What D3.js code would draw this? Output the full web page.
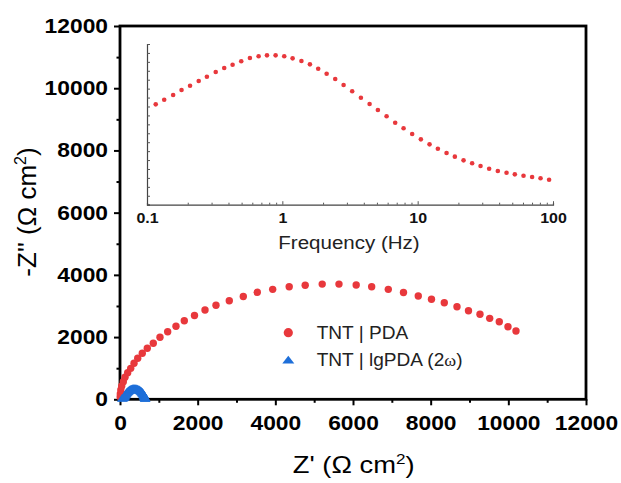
<!DOCTYPE html>
<html>
<head>
<meta charset="utf-8">
<script src="https://cdn.jsdelivr.net/npm/d3@7"></script>
<style>
body { margin: 0; background: #fff; }
svg { font-family: 'Liberation Sans', Arial, sans-serif; }
</style>
</head>
<body>
<svg></svg>
<script>
// Nyquist data, TNT | PDA
let pdaRe = [5, 8, 21, 44, 85, 129, 198, 276, 361, 456, 574, 703, 857, 1030, 1228, 1442, 1656, 1918, 2189, 2472, 2814, 3175, 3535, 3932, 4357, 4769, 5207, 5639, 6082, 6481, 6909, 7300, 7681, 8021, 8351, 8678, 8974, 9270, 9520, 9767, 9991, 10197]
let pdaIm = [70, 170, 299, 427, 566, 707, 855, 995, 1157, 1318, 1478, 1639, 1800, 1993, 2173, 2349, 2526, 2693, 2870, 3021, 3169, 3304, 3439, 3535, 3619, 3667, 3703, 3703, 3674, 3619, 3535, 3433, 3323, 3217, 3105, 2976, 2848, 2732, 2603, 2494, 2333, 2195]

// Nyquist data, TNT | lgPDA (2w)
let lgRe = [55, 80, 100, 110, 118, 125, 135, 145, 155, 165, 178, 190, 205, 220, 238, 255, 275, 295, 315, 335, 355, 375, 395, 415, 435, 455, 475, 495, 512, 530, 545, 560, 573, 585, 595, 605, 613, 620, 627, 632, 638, 642, 647, 650]
let lgIm = [5, 15, 30, 50, 70, 90, 110, 130, 150, 170, 190, 208, 225, 240, 258, 270, 285, 296, 303, 308, 310, 310, 308, 304, 298, 290, 280, 268, 255, 240, 223, 205, 187, 168, 150, 130, 111, 92, 73, 55, 38, 22, 12, 5]

// inset: value vs frequency (no y labels in the figure)
let freq = [0.116, 0.134, 0.156, 0.180, 0.208, 0.241, 0.277, 0.322, 0.372, 0.429, 0.497, 0.576, 0.668, 0.770, 0.892, 1.033, 1.191, 1.384, 1.599, 1.841, 2.125, 2.459, 2.836, 3.282, 3.807, 4.414, 5.082, 5.893, 6.822, 7.868, 9.108, 10.56, 12.24, 14.10, 16.35, 18.83, 21.83, 25.26, 29.14, 33.74, 39.11, 45.36, 52.23, 60.56, 70.09, 80.88, 93.58]
let insetVal = [11.24, 11.76, 12.28, 12.84, 13.33, 13.85, 14.33, 14.86, 15.31, 15.68, 16.06, 16.43, 16.62, 16.73, 16.73, 16.62, 16.39, 16.09, 15.72, 15.23, 14.67, 14.08, 13.40, 12.70, 11.98, 11.28, 10.60, 9.90, 9.18, 8.56, 7.92, 7.32, 6.76, 6.27, 5.79, 5.38, 4.97, 4.64, 4.33, 4.03, 3.77, 3.58, 3.40, 3.25, 3.10, 2.96, 2.80]

let majorTicks = [0, 2000, 4000, 6000, 8000, 10000, 12000]
let minorTicks = [1000, 3000, 5000, 7000, 9000, 11000]
let insetMajor = [0.1, 1, 10, 100]
let legendNames = ['TNT | PDA', 'TNT | lgPDA (2', ')']

let red = '#e8383c'
let blue = '#1e6fd9'

let width = 621
let height = 483
let stretch = 1.14

let svg = d3.select('svg').attr('width', width).attr('height', height)

let xScale = d3.scaleLinear().domain([0, 12000]).range([120, 586])
let yScale = d3.scaleLinear().domain([0, 12000]).range([399.3, 26])

let fxScale = d3.scaleLog().domain([0.1, 100]).range([147, 553])
let fyScale = d3.scaleLinear().domain([0, 18]).range([204.7, 44])

let stretchText = (sel, k) => {
    sel.each(function () {
        let len = this.getComputedTextLength()
        d3.select(this).attr('textLength', len * k).attr('lengthAdjust', 'spacingAndGlyphs')
    })
}

let drawMainAxes = () => {
    let xAxis = svg.append('g')
        .attr('transform', 'translate(0,' + yScale(0) + ')')
        .call(d3.axisBottom(xScale).tickValues(majorTicks).tickSizeOuter(0).tickSize(6).tickPadding(10.5).tickFormat(d3.format('d')))
    let xMinor = svg.append('g')
        .attr('transform', 'translate(0,' + yScale(0) + ')')
        .call(d3.axisBottom(xScale).tickValues(minorTicks).tickSizeOuter(0).tickSize(3.5).tickFormat(''))

    let yAxis = svg.append('g')
        .attr('transform', 'translate(' + xScale(0) + ',0)')
        .call(d3.axisLeft(yScale).tickValues(majorTicks).tickSizeOuter(0).tickSize(6).tickPadding(6).tickFormat(d3.format('d')))
    let yMinor = svg.append('g')
        .attr('transform', 'translate(' + xScale(0) + ',0)')
        .call(d3.axisLeft(yScale).tickValues(minorTicks).tickSizeOuter(0).tickSize(3.5).tickFormat(''))

    ;[xAxis, xMinor, yAxis, yMinor].forEach(g => {
        g.select('.domain').remove()
        g.selectAll('line').attr('stroke', '#000').attr('stroke-width', 2)
    })
    ;[xAxis, yAxis].forEach(g => {
        g.selectAll('text')
            .attr('font-family', "'Liberation Sans', Arial, sans-serif")
            .attr('font-size', 20)
            .attr('font-weight', 'bold')
            .attr('fill', '#000')
            .call(stretchText, stretch)
    })

    // frame
    svg.append('rect')
        .attr('x', xScale(0))
        .attr('y', yScale(12000))
        .attr('width', xScale(12000) - xScale(0))
        .attr('height', yScale(0) - yScale(12000))
        .attr('fill', 'none')
        .attr('stroke', '#000')
        .attr('stroke-width', 2.8)

    let xt = svg.append('text')
        .attr('x', 353.7)
        .attr('y', 473)
        .attr('text-anchor', 'middle')
        .attr('font-size', 24)
    xt.append('tspan').text("Z' (\u03A9 cm")
    xt.append('tspan').attr('font-size', 15).attr('dy', -9).text('2')
    xt.append('tspan').attr('dy', 9).text(')')
    xt.call(stretchText, stretch)

    let yt = svg.append('text')
        .attr('transform', 'translate(36,212) rotate(-90)')
        .attr('text-anchor', 'middle')
        .attr('font-size', 26)
    yt.append('tspan').text("-Z'' (\u03A9 cm")
    yt.append('tspan').attr('font-size', 16).attr('dy', -10).text('2')
    yt.append('tspan').attr('dy', 10).text(')')
}

let drawMain = () => {
    svg.append('g').selectAll('circle')
        .data(pdaRe)
        .enter()
        .append('circle')
        .attr('cx', (d) => xScale(d))
        .attr('cy', (d, i) => yScale(pdaIm[i]))
        .attr('r', 3.7)
        .attr('fill', red)

    let tri = d3.symbol(d3.symbolTriangle, 38)
    svg.append('g').selectAll('path')
        .data(lgRe)
        .enter()
        .append('path')
        .attr('d', tri)
        .attr('transform', (d, i) => 'translate(' + xScale(d) + ',' + yScale(lgIm[i]) + ') scale(1.12,1)')
        .attr('fill', blue)
}

let drawLegend = () => {
    let lg = svg.append('g')
    lg.append('circle').attr('cx', 288.3).attr('cy', 332.7).attr('r', 4.6).attr('fill', red)
    lg.append('path')
        .attr('d', d3.symbol(d3.symbolTriangle, 48))
        .attr('transform', 'translate(288.3,361) scale(1.14,0.86)')
        .attr('fill', blue)

    let t1 = lg.append('text').attr('x', 316.7).attr('y', 338.5).attr('font-size', 18).attr('fill', '#222').text(legendNames[0])
    let t2 = lg.append('text').attr('x', 316.7).attr('y', 366).attr('font-size', 18).attr('fill', '#222')
    t2.append('tspan').text(legendNames[1])
    t2.append('tspan').attr('font-family', "'Liberation Serif', serif").attr('font-size', 17).text('\u03C9')
    t2.append('tspan').text(legendNames[2])
    t1.call(stretchText, 1.06)
    t2.call(stretchText, 1.06)
}

let drawInset = () => {
    let xa = svg.append('g')
        .attr('transform', 'translate(0,' + fyScale(0) + ')')
        .call(d3.axisBottom(fxScale).tickValues(fxScale.ticks()).tickSizeOuter(0).tickSize(-2).tickPadding(8.5).tickFormat(''))
    xa.selectAll('.tick')
        .filter((d) => insetMajor.indexOf(d) >= 0)
        .select('line').attr('y2', -3.5)
    xa.selectAll('.tick')
        .filter((d) => insetMajor.indexOf(d) >= 0)
        .select('text')
        .text((d) => d3.format('~g')(d))
        .attr('font-family', "'Liberation Sans', Arial, sans-serif")
        .attr('font-size', 14)
        .attr('font-weight', 'bold')
        .attr('fill', '#111')
        .call(stretchText, stretch)

    let ya = svg.append('g')
        .attr('transform', 'translate(' + fxScale(0.1) + ',0)')
        .call(d3.axisLeft(fyScale).ticks(18).tickSizeOuter(0).tickSize(-3).tickFormat(''))

    ;[xa, ya].forEach(g => {
        g.select('.domain').attr('stroke', '#444').attr('stroke-width', 1.2)
        g.selectAll('line').attr('stroke', '#555').attr('stroke-width', 1)
    })

    svg.append('text')
        .attr('x', 349)
        .attr('y', 248.5)
        .attr('text-anchor', 'middle')
        .attr('font-size', 18)
        .attr('fill', '#222')
        .text('Frequency (Hz)')
        .call(stretchText, stretch)

    svg.append('g').selectAll('circle')
        .data(freq)
        .enter()
        .append('circle')
        .attr('cx', (d) => fxScale(d))
        .attr('cy', (d, i) => fyScale(insetVal[i]))
        .attr('r', 2.3)
        .attr('fill', red)
}

drawMainAxes()
drawInset()
drawMain()
drawLegend()
</script>
</body>
</html>
